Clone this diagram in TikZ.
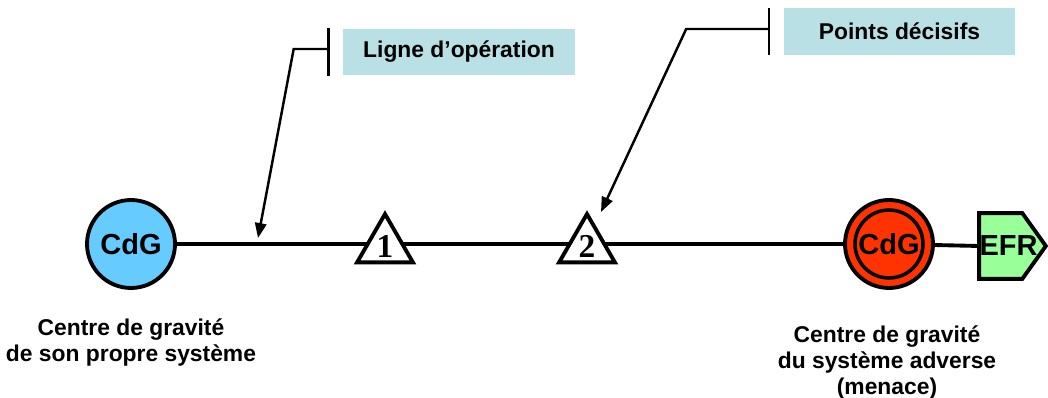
\documentclass[tikz,border=0pt]{standalone}
\usepackage{fontspec}
\setmainfont{Liberation Sans}
\newfontfamily\numfont{Liberation Serif}
\usetikzlibrary{shapes.geometric, arrows.meta, positioning, calc, backgrounds}
\definecolor{cdgblue}{RGB}{102,204,255}
\definecolor{cdgred}{RGB}{255,51,0}
\definecolor{efrgreen}{RGB}{153,255,153}
\definecolor{calloutbg}{RGB}{185,224,228}
\tikzset{
  % Centre de gravite (parameterized by color)
  cdg/.style={
    circle, draw=black, line width=2.2pt, fill=#1, minimum size=1.76cm,
    inner sep=0pt, font=\fontsize{16.5}{18}\selectfont\bfseries
  },
  cdginner/.style={circle, draw=black, line width=2pt, minimum size=1.36cm,
    inner sep=0pt, font=\fontsize{16.5}{18}\selectfont\bfseries},
  % Decisive point
  decpoint/.style={
    regular polygon, regular polygon sides=3, draw=black, fill=white,
    line width=2.2pt, minimum size=1.29cm, inner sep=0pt,
    font=\fontsize{19}{19}\selectfont\numfont\bfseries
  },
  axisline/.style={line width=2.2pt, black},
  efrlabel/.style={font=\fontsize{16.5}{18}\selectfont\bfseries, inner sep=0pt},
  efrshape/.style={draw=black, fill=efrgreen, line width=2.2pt, line join=miter},
  callbox/.style={
    rectangle, fill=calloutbg, minimum width=4.64cm, minimum height=0.93cm,
    inner sep=0pt, font=\fontsize{13}{15}\selectfont\bfseries
  },
  callline/.style={line width=1.4pt, black},
  callarrow/.style={-{Triangle[length=8.5pt, width=6.5pt]}, line width=1.4pt, black},
  cdglabel/.style={align=center, inner sep=0pt, anchor=north,
    font=\fontsize{13}{15}\selectfont\bfseries}
}
\begin{document}
\begin{tikzpicture}[x=0.02cm, y=-0.02cm]
  \useasboundingbox (0,0) rectangle (1048,398);

  % Centres de gravite
  \node[cdg=cdgblue] (own) at (131,244) {CdG};
  \node[cdg=cdgred] (adv) at (889,244) {};
  \node[cdginner] (advin) at (adv.center) {CdG};

  % Decisive points on the line of operation
  \node[decpoint] (tri1) at (385,246.3) {1};
  \node[decpoint] (tri2) at (587,246.3) {2};

  % Line of operation
  \begin{scope}[on background layer]
    \draw[axisline] (own) -- (adv);
  \end{scope}

  % EFR
  \node[efrlabel, minimum width=1.32cm, minimum height=1.3cm] (efr) at (1012.5,246) {};
  \draw[efrshape] (efr.north west) -- ($(efr.north east)+(-23.5,0)$) -- (efr.east)
    -- ($(efr.south east)+(-23.5,0)$) -- (efr.south west) -- cycle;
  \node[efrlabel] (efrtxt) at ($(efr.center)+(-4,0)$) {EFR};
  \draw[axisline] (adv) -- (efr.west);

  % Callout: ligne d'operation
  \node[callbox] (ligne) at (459,52) {Ligne d'opération};
  \draw[callline] ($(ligne.north west)+(-14,0)$) -- ($(ligne.south west)+(-14,0)$);
  \coordinate (lbar) at ($(ligne.west)+(-14,-3)$);
  \coordinate (lop) at (258,238);
  \draw[callarrow] (lbar) -- ++(-35,0) -- (lop);

  % Callout: points decisifs
  \node[callbox] (points) at (899.5,31.5) {Points décisifs};
  \draw[callline] ($(points.north west)+(-14,0)$) -- ($(points.south west)+(-14,0)$);
  \coordinate (pbar) at ($(points.west)+(-14,-2.5)$);
  \coordinate (dp) at (601,212);
  \draw[callarrow] (pbar) -- ++(-83,0) -- (dp);

  % Labels
  \node[cdglabel] (ownlbl) at (131,318) {Centre de gravité\\de son propre système};
  \node[cdglabel] (advlbl) at (887,325) {Centre de gravité\\du système adverse\\(menace)};
\end{tikzpicture}
\end{document}
